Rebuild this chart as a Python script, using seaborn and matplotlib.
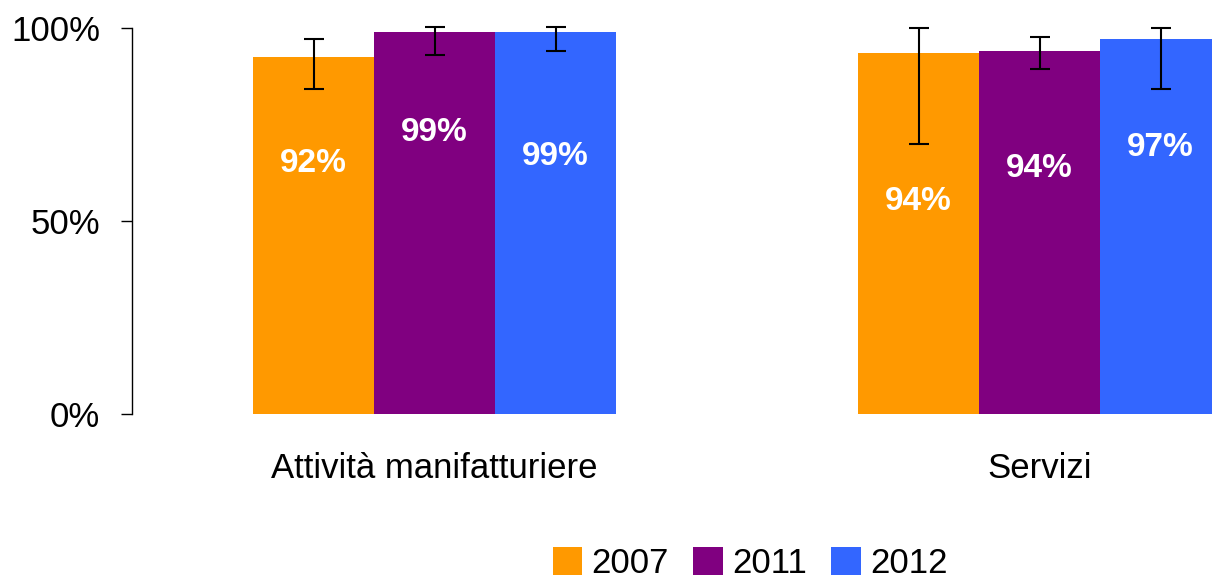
import matplotlib
matplotlib.use("Agg")
import matplotlib.pyplot as plt
import seaborn as sns
import pandas as pd
from matplotlib.patches import Patch

categories = ["Attività manifatturiere", "Servizi"]
years = ["2007", "2011", "2012"]
values_2007 = [92.5, 93.5]
values_2011 = [99.0, 94.0]
values_2012 = [99.0, 97.2]
labels_2007 = ["92%", "94%"]
labels_2011 = ["99%", "94%"]
labels_2012 = ["99%", "97%"]
low_2007 = [84.2, 70.0]
low_2011 = [93.0, 89.5]
low_2012 = [94.1, 84.2]
high_2007 = [97.2, 100.1]
high_2011 = [100.2, 97.7]
high_2012 = [100.2, 100.1]
yticks = [0, 50, 100]
ytick_labels = ["0%", "50%", "100%"]

# label vertical placement (style, in data units)
label_pos = {"2007": [65.0, 55.0], "2011": [72.8, 63.7], "2012": [66.6, 69.0]}

colors = ["#FF9900", "#800080", "#3366FF"]

vals = {"2007": values_2007, "2011": values_2011, "2012": values_2012}
labs = {"2007": labels_2007, "2011": labels_2011, "2012": labels_2012}
lows = {"2007": low_2007, "2011": low_2011, "2012": low_2012}
highs = {"2007": high_2007, "2011": high_2011, "2012": high_2012}

rows = []
for y in years:
    for c, v in zip(categories, vals[y]):
        rows.append({"cat": c, "year": y, "value": v})
df = pd.DataFrame(rows)

sns.set_style("white")
plt.rcParams["font.family"] = ["Liberation Sans", "DejaVu Sans"]
plt.rcParams["text.color"] = "black"
plt.rcParams["xtick.color"] = "black"
plt.rcParams["ytick.color"] = "black"
plt.rcParams["axes.labelcolor"] = "black"

fig = plt.figure(figsize=(12.12, 5.83), dpi=100)
ax = fig.add_axes([132 / 1212, 169 / 583, 1 - 132 / 1212, 386 / 583])

sns.barplot(data=df, x="cat", y="value", hue="year", order=categories,
            hue_order=years, palette=colors, saturation=1, width=0.6,
            errorbar=None, linewidth=0, ax=ax, legend=False)

for i, y in enumerate(years):
    cont = ax.containers[i]
    for j, bar in enumerate(cont):
        xc = bar.get_x() + bar.get_width() / 2
        v = vals[y][j]
        ax.errorbar(xc, v, yerr=[[v - lows[y][j]], [highs[y][j] - v]],
                    fmt="none", ecolor="black", elinewidth=1.5, capsize=7.5,
                    capthick=1.5, clip_on=False, zorder=5)
        ax.text(xc, label_pos[y][j], labs[y][j], color="white",
                fontsize=24, fontweight="bold", ha="center", va="center")

ax.set_xlim(-0.5, 1.285)
ax.set_ylim(0, 100)
ax.set_yticks(yticks)
ax.set_yticklabels(ytick_labels, fontsize=25, color="black")
ax.set_xlabel("")
ax.set_ylabel("")
ax.tick_params(axis="y", direction="out", length=8, width=1, color="black",
               labelcolor="black", pad=15, left=True)
ax.tick_params(axis="x", length=0, pad=27, labelsize=25, labelcolor="black")
for s in ["top", "right", "bottom"]:
    ax.spines[s].set_visible(False)
ax.spines["left"].set_color("black")
ax.spines["left"].set_linewidth(1.0)

handles = [Patch(facecolor=c, edgecolor="none", label=y) for c, y in zip(colors, years)]
fig.legend(handles=handles, loc="center", bbox_to_anchor=(0.619, 0.033),
           ncol=3, frameon=False, fontsize=25, handlelength=0.85,
           handleheight=0.85, handletextpad=0.27, columnspacing=0.7,
           borderpad=0, borderaxespad=0, labelcolor="black")

fig.savefig("out.png", dpi=100)
